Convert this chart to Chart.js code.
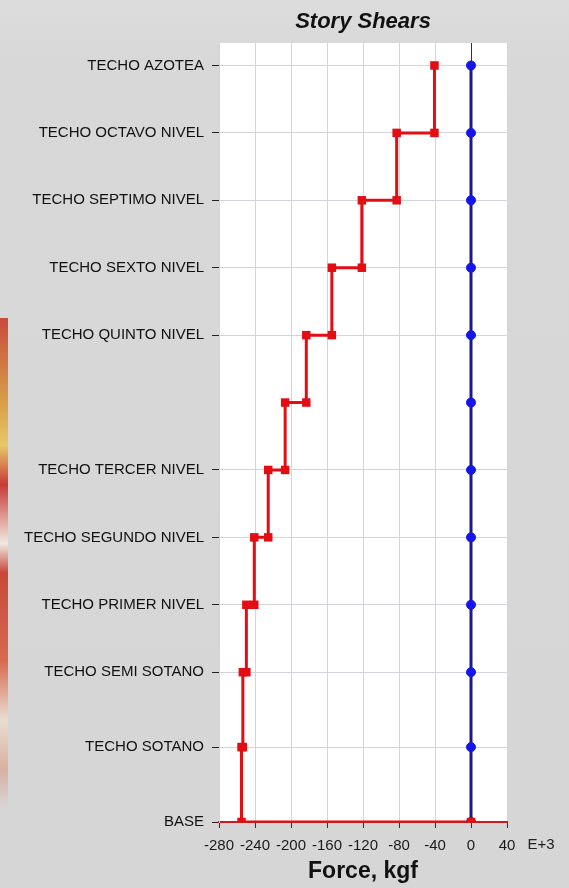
<!DOCTYPE html>
<html>
<head>
<meta charset="utf-8">
<script src="https://cdn.jsdelivr.net/npm/chart.js@4/dist/chart.umd.min.js"></script>
<style>
  html, body { margin: 0; padding: 0; background: #d7d7d7; }
  #wrap { position: relative; width: 569px; height: 888px; overflow: hidden;
          background: linear-gradient(#dcdcdc 0px, #d8d8d8 60px, #d6d6d6 100%); }
  #strip { position: absolute; left: 0; top: 318px; width: 8px; height: 490px;
           background: linear-gradient(#c94a3c 0%, #d9a24a 18%, #e8c86a 26%, #c83a34 34%,
             #f0e8e0 46%, #c8483c 52%, #d86a50 70%, #e9ddd0 82%, #d9b0a0 92%, #d6d6d6 100%); }
  canvas { position: absolute; left: 0; top: 0; }
</style>
</head>
<body>
<div id="wrap">
  <div id="strip"></div>
  <canvas id="c" width="569" height="888"></canvas>
</div>
<script>
// Stories from top to bottom
const storyNames = ["TECHO AZOTEA", "TECHO OCTAVO NIVEL", "TECHO SEPTIMO NIVEL", "TECHO SEXTO NIVEL",
  "TECHO QUINTO NIVEL", "", "TECHO TERCER NIVEL", "TECHO SEGUNDO NIVEL", "TECHO PRIMER NIVEL",
  "TECHO SEMI SOTANO", "TECHO SOTANO", "BASE"];
// Story elevations (m)
const storyElev = [30.3, 27.6, 24.9, 22.2, 19.5, 16.8, 14.1, 11.4, 8.7, 6.0, 3.0, 0.0];
// Story shear, E+3 kgf (X direction), value below each story level
const shearX = [-40.6, -82.6, -121.3, -154.6, -183.0, -206.5, -225.3, -240.8, -249.6, -253.5, -255.0, 0];
// Story shear, Y direction
const shearY = [0, 0, 0, 0, 0, 0, 0, 0, 0, 0, 0, 0];
// X tick values
const xTicks = [-280, -240, -200, -160, -120, -80, -40, 0, 40];

function stepPoints(vals) {
  const pts = [{ x: vals[0], y: storyElev[0] }];
  for (let i = 1; i < vals.length; i++) {
    pts.push({ x: vals[i - 1], y: storyElev[i] });
    pts.push({ x: vals[i], y: storyElev[i] });
  }
  return pts;
}
const bluePts = shearY.map((v, i) => ({ x: v, y: storyElev[i] }));

const PLOT_L = 219, PLOT_R = 507, PLOT_T = 43, PLOT_B = 822;
const W = 569, H = 888;

const bgPlugin = {
  id: 'bg',
  beforeDraw(chart) {
    const a = chart.chartArea, ctx = chart.ctx;
    ctx.save();
    ctx.fillStyle = '#ffffff';
    ctx.fillRect(a.left, a.top, a.right - a.left, a.bottom - a.top);
    ctx.restore();
  },
  afterDraw(chart) {
    const a = chart.chartArea, ctx = chart.ctx;
    ctx.save();
    ctx.fillStyle = '#111';
    ctx.font = 'bold italic 22px "Liberation Sans", Arial, sans-serif';
    ctx.textAlign = 'center';
    ctx.textBaseline = 'alphabetic';
    ctx.fillText('Story Shears', (a.left + a.right) / 2, 28);
    ctx.font = '15px "Liberation Sans", Arial, sans-serif';
    ctx.fillStyle = '#222';
    ctx.fillText('E+3', 541, 849);
    ctx.restore();
  }
};

new Chart(document.getElementById('c'), {
  type: 'scatter',
  data: {
    datasets: [
      {
        label: 'X',
        data: stepPoints(shearX),
        showLine: true,
        borderColor: 'rgb(226,14,20)',
        backgroundColor: 'rgb(226,14,20)',
        borderWidth: 3,
        pointStyle: 'rect',
        pointRadius: 6,
        pointBorderWidth: 0,
        pointHoverRadius: 6
      },
      {
        label: 'Y',
        data: bluePts,
        showLine: true,
        borderColor: 'rgb(26,26,140)',
        backgroundColor: 'rgb(20,20,235)',
        pointBorderColor: 'rgb(20,20,235)',
        borderWidth: 3,
        pointStyle: 'circle',
        pointRadius: 4.5,
        pointBorderWidth: 1
      }
    ]
  },
  options: {
    responsive: false,
    animation: false,
    events: [],
    layout: { padding: { left: 0, top: PLOT_T, right: W - PLOT_R, bottom: 0 } },
    plugins: { legend: { display: false }, tooltip: { enabled: false }, title: { display: false } },
    scales: {
      x: {
        type: 'linear',
        min: -280, max: 40,
        afterBuildTicks: (s) => { s.ticks = xTicks.map(v => ({ value: v })); },
        afterFit: (s) => { s.height = H - PLOT_B; },
        grid: {
          color: (ctx) => (ctx.tick && ctx.tick.value === 0) ? '#333' : '#d4d4dc',
          lineWidth: 1,
          tickColor: '#333',
          tickLength: 6,
          drawTicks: true
        },
        border: { display: true, color: 'rgb(205,25,25)', width: 2 },
        ticks: {
          padding: 9,
          color: '#1a1a1a',
          font: { family: '"Liberation Sans", Arial, sans-serif', size: 15 },
          maxRotation: 0,
          autoSkip: false
        },
        title: {
          display: true,
          text: 'Force, kgf',
          color: '#111',
          font: { family: '"Liberation Sans", Arial, sans-serif', size: 23, weight: 'bold' },
          padding: { top: 0, bottom: 3 }
        }
      },
      y: {
        type: 'linear',
        min: 0, max: 31.2,
        afterBuildTicks: (s) => {
          s.ticks = storyElev.filter((v, i) => storyNames[i] !== '').map(v => ({ value: v }));
        },
        afterFit: (s) => { s.width = PLOT_L; },
        grid: {
          color: '#d4d4dc',
          lineWidth: 1,
          tickColor: '#222',
          tickLength: 7
        },
        border: { display: true, color: '#d4d4dc', width: 1 },
        ticks: {
          padding: 8,
          color: '#111',
          font: { family: '"Liberation Sans", Arial, sans-serif', size: 15 },
          autoSkip: false,
          callback: (value) => {
            const i = storyElev.findIndex(e => Math.abs(e - value) < 1e-6);
            return i >= 0 ? storyNames[i] : '';
          }
        }
      }
    }
  },
  plugins: [bgPlugin]
});
</script>
</body>
</html>
